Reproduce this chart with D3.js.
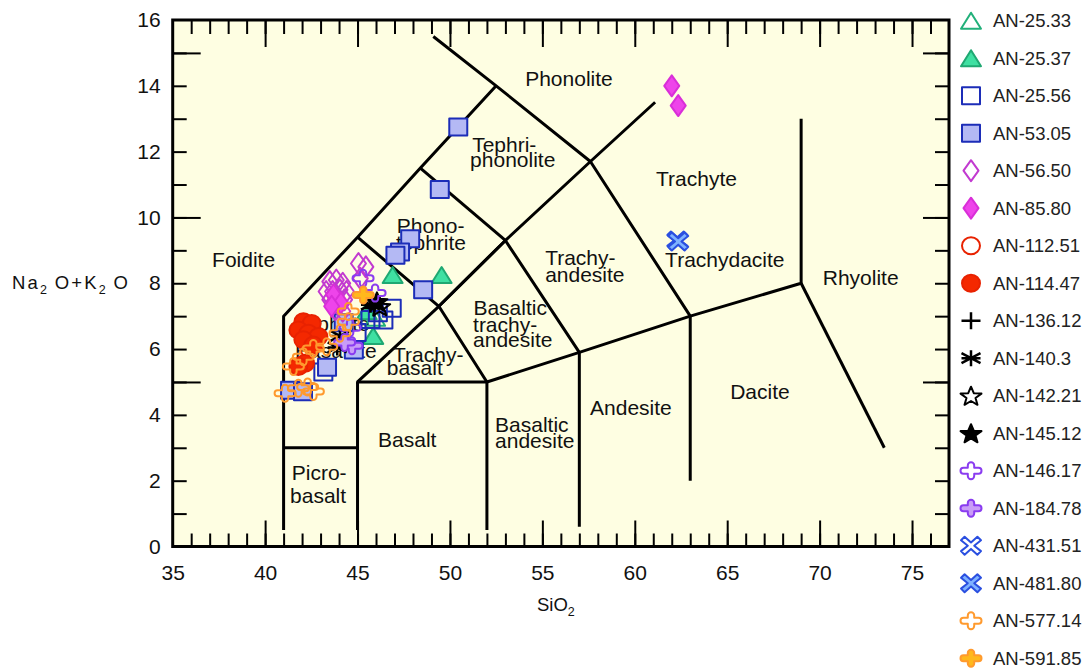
<!DOCTYPE html>
<html><head><meta charset="utf-8">
<script src="https://cdn.jsdelivr.net/npm/d3@7"></script>
<style>
body{margin:0;background:#fff;}
svg{display:block;font-family:"Liberation Sans",Arial,sans-serif;}
</style></head><body>
<svg id="chart" width="1086" height="670"></svg>
<script>
// ---------- data ----------
const xTickLabels = [35,40,45,50,55,60,65,70,75];
const yTickLabels = [0,2,4,6,8,10,12,14,16];
const xMajorTicks = [40,45,50,55,60,65,70,75];
const yMajorTicks = [5,10,15];
const xMinorTicks = d3.range(36,77);
const yMinorTicks = d3.range(1,16);

// TAS field boundaries (SiO2, Na2O+K2O)
const boundaries = [
  [[41,0.5],[41,7],[45,9.4],[48.4,11.5],[52.5,14]],
  [[49.1,15.5],[52.5,14],[57.6,11.7],[63,7],[63,2]],
  [[41,3],[45,3]],
  [[45,0.5],[45,5],[52,5],[52,0.5]],
  [[45,5],[49.4,7.3],[52,5]],
  [[52,5],[57,5.9],[63,7],[69,8],[69,13]],
  [[57,0.6],[57,5.9],[53,9.3],[49.4,7.3],[45,9.4]],
  [[49.4,7.3],[53,9.3],[57.6,11.7],[61.1,13.5]],
  [[53,9.3],[48.4,11.5]],
  [[69,8],[73.5,3]]
];

// field labels: text, SiO2, Na2O+K2O (left/baseline)
const fieldLabels = [
  ["Phonolite",54.07,14.0],
  ["Tephri-",51.2,12.0],["phonolite",51.09,11.54],
  ["Phono-",47.12,9.52],["tephrite",47.08,9.01],
  ["Foidite",37.13,8.5],
  ["Trachy-",55.15,8.56],["andesite",55.15,8.05],
  ["Basaltic",51.27,7.04],["trachy-",51.25,6.53],["andesite",51.25,6.07],
  ["Trachy-",46.92,5.62],["basalt",46.58,5.21],
  ["Tephrite",41.62,6.55],["Basanite",41.62,5.73],
  ["Basalt",46.11,3.02],
  ["Picro-",41.44,2.02],["basalt",41.35,1.32],
  ["Basaltic",52.44,3.48],["andesite",52.44,2.99],
  ["Andesite",57.58,4.0],
  ["Dacite",65.16,4.47],
  ["Rhyolite",70.17,7.95],
  ["Trachyte",61.15,10.97],
  ["Trachydacite",61.64,8.5]
];

const seriesNames = ["AN-25.33","AN-25.37","AN-25.56","AN-53.05","AN-56.50","AN-85.80",
  "AN-112.51","AN-114.47","AN-136.12","AN-140.3","AN-142.21","AN-145.12","AN-146.17",
  "AN-184.78","AN-431.51","AN-481.80","AN-577.14","AN-591.85"];

const an2533 = [[45.95,6.95]];
const an2537 = [[46.9,8.25],[49.55,8.25],[45.85,6.4],[45.5,7.15]];
const an2556 = [[46.85,7.24],[46.4,6.88],[45.7,6.9],[44.95,6.5],[46.1,7.1],[43.15,5.3]];
const an5305 = [[50.45,12.75],[49.45,10.85],[47.85,9.35],[47.3,8.95],[47.05,8.85],[48.55,7.8],
  [44.25,6.8],[44.8,5.97],[43.35,5.45],[41.35,4.75],[42.05,4.7]];
const an5650 = [[45.05,8.6],[45.45,8.5],[45.15,8.15],[43.5,8.05],[43.85,8.1],[44.2,8.0],
  [43.3,7.75],[43.65,7.75],[44.05,7.8],[44.4,7.75],[43.5,7.5],[43.95,7.45],[44.3,7.5],[43.8,7.2],[44.2,7.15]];
const an8580 = [[62.0,14.0],[62.35,13.4],[43.7,7.65],[44.1,7.4],[43.6,7.3]];
const an11251 = [[42.4,6.0]];
const an11447 = [[42.07,6.83],[42.52,6.78],[41.8,6.58],[42.34,6.48],[42.88,6.38],[42.07,6.28],
  [42.61,6.12],[42.16,5.57],[41.8,5.47]];
const an13612 = [[45.9,7.25]];
const an1403 = [[45.7,7.35],[44.05,6.4],[43.9,6.05]];
const an14221 = [[46.2,7.3]];
const an14512 = [[46.05,7.45]];
const an14617 = [[45.95,7.7],[45.3,8.15],[44.6,6.65]];
const an18478 = [[44.7,6.1],[44.3,6.2]];
const an43151 = [[62.3,9.3]];
const an48180 = [[62.35,9.27]];
const an57714 = [[44.5,7.14],[44.5,6.83],[44.05,6.48],[43.33,6.07],[42.61,6.02],[42.07,5.77],
  [41.53,5.47],[41.08,4.66],[41.8,4.81],[42.61,4.71],[42.3,4.85]];
const an59185 = [[45.31,7.64]];

const seriesPoints = [an2533,an2537,an2556,an5305,an5650,an8580,an11251,an11447,an13612,
  an1403,an14221,an14512,an14617,an18478,an43151,an48180,an57714,an59185];

// ---------- styles ----------
const styles = [
  {k:"triangle", fill:"none", stroke:"#22b07a"},
  {k:"triangle", fill:"#3fe0a2", stroke:"#1fa872"},
  {k:"square", fill:"none", stroke:"#1c2db8"},
  {k:"square", fill:"#b4b9f4", stroke:"#1c2db8"},
  {k:"diamond", fill:"none", stroke:"#c23ad0"},
  {k:"diamond", fill:"#ee44ea", stroke:"#d92fd8"},
  {k:"circle", fill:"none", stroke:"#e82200"},
  {k:"circle", fill:"#f42800", stroke:"#e82200"},
  {k:"plus", fill:"none", stroke:"#000"},
  {k:"asterisk", fill:"none", stroke:"#000"},
  {k:"star", fill:"none", stroke:"#000"},
  {k:"star", fill:"#000", stroke:"#000"},
  {k:"cross", fill:"none", stroke:"#8a3cf0"},
  {k:"cross", fill:"#c99cf7", stroke:"#8a3cf0"},
  {k:"x", fill:"none", stroke:"#2a4fe0"},
  {k:"x", fill:"#7fb2ff", stroke:"#2a4fe0"},
  {k:"cross", fill:"none", stroke:"#ff9a2e"},
  {k:"cross", fill:"#ffb81c", stroke:"#ff9a2e"}
];

function symbolPath(k){
  if(k==="triangle") return "M0,-8 L10,8 L-10,8 Z";
  if(k==="square") return "M-9,-8.5 H9 V8.5 H-9 Z";
  if(k==="diamond") return "M0,-10.5 L7.5,0 L0,10.5 L-7.5,0 Z";
  if(k==="circle") return "M-9,0 A9,8.5 0 1,0 9,0 A9,8.5 0 1,0 -9,0 Z";
  if(k==="plus") return "M-9.5,0 H9.5 M0,-8.5 V8.5";
  if(k==="asterisk") return "M0,-8 V8 M-9.5,-5 L9.5,5 M-9.5,5 L9.5,-5 M-9.5,0 H9.5";
  if(k==="star"){
    const p=[];
    for(let i=0;i<10;i++){const a=-Math.PI/2+i*Math.PI/5; const r=i%2?4.3:10; p.push([(Math.cos(a)*r*1.1).toFixed(2),(Math.sin(a)*r+1).toFixed(2)]);}
    return "M"+p.map(d=>d.join(",")).join("L")+"Z";
  }
  if(k==="cross"){
    const a=10.5,b=8.5,tw=3.2,th=3.0;
    return `M${-tw},${-th} L${-tw},${-b+tw} A${tw},${tw} 0 0 1 ${tw},${-b+tw} L${tw},${-th} L${a-th},${-th} A${th},${th} 0 0 1 ${a-th},${th} L${tw},${th} L${tw},${b-tw} A${tw},${tw} 0 0 1 ${-tw},${b-tw} L${-tw},${th} L${-a+th},${th} A${th},${th} 0 0 1 ${-a+th},${-th} Z`;
  }
  if(k==="x"){
    const a=10,b=9,d=3.6,e=3.2;
    const p=[[-a,-b+d],[-a+d,-b],[0,-e],[a-d,-b],[a,-b+d],[e,0],[a,b-d],[a-d,b],[0,e],[-a+d,b],[-a,b-d],[-e,0]];
    return "M"+p.map(d=>d.join(",")).join("L")+"Z";
  }
}

// ---------- chart ----------
const svg = d3.select("#chart");
const x = d3.scaleLinear().domain([35,77]).range([172.7,949]);
const y = d3.scaleLinear().domain([0,16]).range([546.5,20]);

svg.append("rect").attr("x",x(35)).attr("y",y(16)).attr("width",x(77)-x(35)).attr("height",y(0)-y(16))
  .attr("fill","#fefee2");

function tickAxis(axis, tr){
  const g = svg.append("g").attr("transform",tr).call(axis.tickFormat(""));
  g.select(".domain").remove();
  g.selectAll("line").attr("stroke","#000").attr("stroke-width",2);
  return g;
}
tickAxis(d3.axisBottom(x).tickValues(xMinorTicks).tickSize(-13), `translate(0,${y(0)})`);
tickAxis(d3.axisBottom(x).tickValues(xMajorTicks).tickSize(-26), `translate(0,${y(0)})`);
tickAxis(d3.axisTop(x).tickValues(xMinorTicks).tickSize(-14), `translate(0,${y(16)})`);
tickAxis(d3.axisTop(x).tickValues(xMajorTicks).tickSize(-27), `translate(0,${y(16)})`);
tickAxis(d3.axisLeft(y).tickValues(yMinorTicks).tickSize(-14), `translate(${x(35)},0)`);
tickAxis(d3.axisLeft(y).tickValues(yMajorTicks).tickSize(-28), `translate(${x(35)},0)`);
tickAxis(d3.axisRight(y).tickValues(yMinorTicks).tickSize(-14), `translate(${x(77)},0)`);
tickAxis(d3.axisRight(y).tickValues(yMajorTicks).tickSize(-26), `translate(${x(77)},0)`);

// tick labels
const xl = svg.append("g").attr("transform",`translate(0,${y(0)})`)
  .call(d3.axisBottom(x).tickValues(xTickLabels).tickSize(0).tickPadding(19).tickFormat(d3.format("d")));
xl.select(".domain").remove();
xl.selectAll("text").attr("font-size",21).attr("fill","#111").attr("font-family","Liberation Sans, Arial, sans-serif");
const yl = svg.append("g").attr("transform",`translate(${x(35)},0)`)
  .call(d3.axisLeft(y).tickValues(yTickLabels).tickSize(0).tickPadding(12).tickFormat(d3.format("d")));
yl.select(".domain").remove();
yl.selectAll("text").attr("font-size",21).attr("fill","#111").attr("font-family","Liberation Sans, Arial, sans-serif");

// boundaries
const line = d3.line().x(d=>x(d[0])).y(d=>y(d[1]));
svg.append("g").selectAll("path").data(boundaries).join("path")
  .attr("d",line).attr("fill","none").attr("stroke","#000").attr("stroke-width",3)
  .attr("stroke-linejoin","round");

// field labels
svg.append("g").selectAll("text").data(fieldLabels).join("text")
  .attr("x",d=>x(d[1])).attr("y",d=>y(d[2])).text(d=>d[0])
  .attr("font-size",21).attr("fill","#111");

// frame
svg.append("rect").attr("x",x(35)).attr("y",y(16)).attr("width",x(77)-x(35)).attr("height",y(0)-y(16))
  .attr("fill","none").attr("stroke","#000").attr("stroke-width",3);

// points
seriesPoints.forEach((pts,i)=>{
  const st = styles[i];
  svg.append("g").selectAll("path").data(pts).join("path")
    .attr("transform",d=>`translate(${x(d[0])},${y(d[1])})`)
    .attr("d",symbolPath(st.k)).attr("fill",st.fill).attr("stroke",st.stroke)
    .attr("stroke-width",(st.k==="plus"||st.k==="asterisk")?2.5:2).attr("stroke-linejoin","round");
});

// legend
const lg = svg.append("g");
seriesNames.forEach((name,i)=>{
  const st = styles[i];
  const cy = 20.7 + 37.5*i;
  lg.append("path").attr("transform",`translate(971,${cy})`).attr("d",symbolPath(st.k))
    .attr("fill",st.fill==="none"?"#fff":st.fill).attr("stroke",st.stroke)
    .attr("stroke-width",(st.k==="plus"||st.k==="asterisk")?2.5:2).attr("stroke-linejoin","round");
  lg.append("text").attr("x",993).attr("y",cy+6.5).text(name).attr("font-size",18.5).attr("fill","#222");
});

// axis titles
const xt = svg.append("text").attr("x",537).attr("y",611).attr("font-size",18.5).attr("fill","#111");
xt.append("tspan").text("SiO");
xt.append("tspan").text("2").attr("font-size",12.5).attr("dy",5);
const yt = svg.append("text").attr("x",12).attr("y",289).attr("font-size",18.5).attr("fill","#111")
  .attr("textLength",116).attr("lengthAdjust","spacing");
yt.append("tspan").text("Na");
yt.append("tspan").text("2").attr("font-size",12.5).attr("dy",5);
yt.append("tspan").text("\u2009O+K").attr("dy",-5);
yt.append("tspan").text("2").attr("font-size",12.5).attr("dy",5);
yt.append("tspan").text("\u2009O").attr("dy",-5);
</script>
</body></html>
